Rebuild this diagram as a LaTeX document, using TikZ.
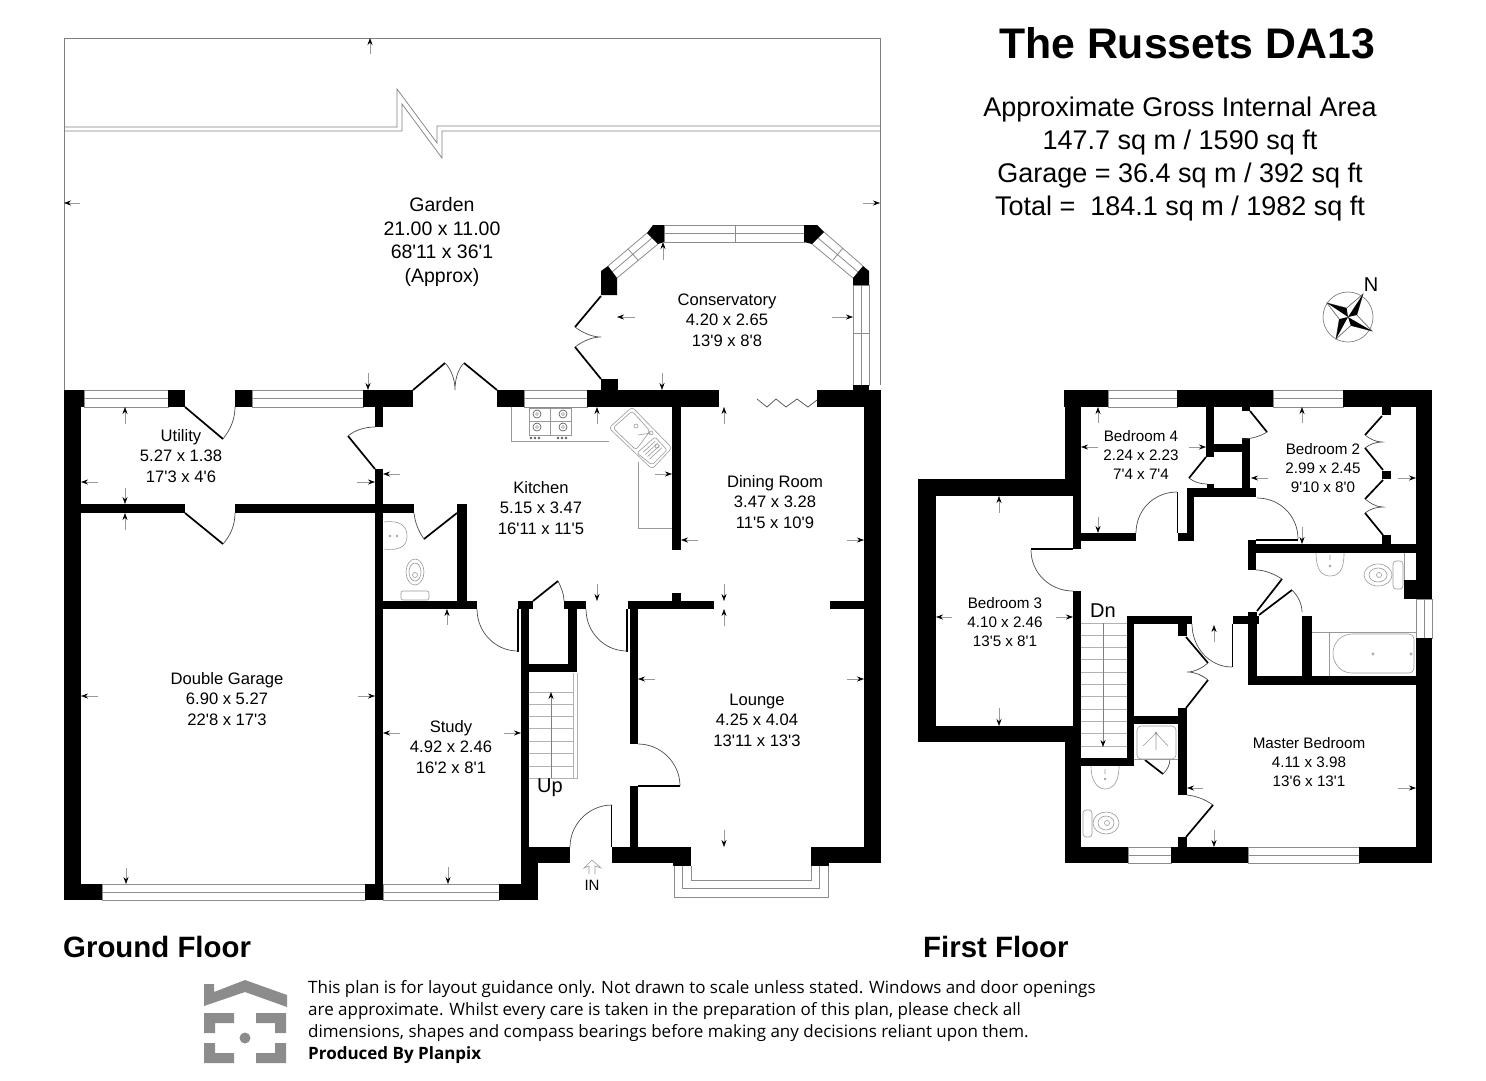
\documentclass[tikz,border=0pt]{standalone}
\usepackage{fontspec}
\setmainfont{Liberation Sans}
\newfontfamily\plainfont{Liberation Sans}
\newfontfamily\notefont{Open Sans}
\usetikzlibrary{arrows.meta, calc}
\definecolor{logogray}{HTML}{8C8C8C}
\tikzset{
    wall/.style={fill=black},
    glazing/.style={draw=black!45, line width=0.8pt},
    outline/.style={draw=black!50, line width=0.7pt},
    fixture/.style={draw=black!40, line width=0.6pt},
    doorleaf/.style={draw=black, line width=1.7pt},
    doorarc/.style={draw=black!70, line width=0.7pt},
    dimarrow/.style={draw=black!40, line width=0.6pt, -{Stealth[length=7pt,width=5pt,black]}},
    roomlabel/.style={align=center, inner sep=0pt, font=\plainfont\fontsize{16.6}{20.6}\selectfont},
    smalllabel/.style={align=center, inner sep=0pt, font=\plainfont\fontsize{15.2}{18.8}\selectfont},
    floorlabel/.style={anchor=west, inner sep=0pt, font=\fontsize{29.4}{32}\selectfont\bfseries},
}
\begin{document}
\begin{tikzpicture}[x=1pt,y=-1pt]
\useasboundingbox (0,0) rectangle (1486,1080);

% Garden boundary with break line
\draw[outline] (64,390) -- (64,38) -- (880,38) -- (880,385);
\draw[outline] (64,127) -- (397,127) -- (397,89) -- (437,143) -- (437,126) -- (880,126);
\draw[outline] (64,131) -- (402,131) -- (402,104) -- (442,158) -- (442,131) -- (880,131);

% Windows, horizontal
\foreach \xa/\ya/\xb/\yb in {84/390/168/407, 252/390/363/407, 524/390/587/407, 102/884/365/900, 383/884/499/900, 664/225/804/242,
    1108/390/1177/407, 1273/390/1343/407, 1128/847/1171/863, 1248/847/1359/863} {
  \draw[glazing] (\xa,\ya) rectangle (\xb,\yb);
  \draw[glazing] ($(\xa,\ya)!.5!(\xa,\yb)$) -- ($(\xb,\ya)!.5!(\xb,\yb)$);
}
% Windows, vertical
\foreach \xa/\ya/\xb/\yb in {853/285/869/385, 1416/599/1432/638} {
  \draw[glazing] (\xa,\ya) rectangle (\xb,\yb);
  \draw[glazing] ($(\xa,\ya)!.5!(\xb,\ya)$) -- ($(\xa,\yb)!.5!(\xb,\yb)$);
}
% Conservatory glazing
\draw[glazing] (647,233) -- (608,266) (658,244) -- (617,278) (652,238) -- (612,272) (628,249) -- (638,260);
\draw[glazing] (824,232) -- (863,266) (812,244) -- (853,278) (818,238) -- (858,272) (843,248) -- (833,260);
\draw[glazing] (735,225) -- (735,242) (853,333) -- (869,333);
% Bay window
\draw[glazing] (691,866) -- (691,880) -- (811,880) -- (811,866);
\draw[glazing] (682,866) -- (682,888) -- (819,888) -- (819,866);
\draw[glazing] (674,866) -- (674,897) -- (828,897) -- (828,866);

% Ground floor walls
\foreach \xa/\ya/\xb/\yb in {64/390/84/407, 64/390/81/900, 168/390/185/407, 235/390/252/407, 363/390/413/407, 497/390/524/407,
    587/390/719/407, 601/379/618/390, 817/390/881/407, 853/385/869/390, 864/390/881/863, 375/407/383/427, 375/469/383/900,
    81/504/185/513, 235/504/414/513, 457/504/467/601, 383/601/477/609, 518/601/533/609, 521/609/529/863, 529/847/570/863,
    521/863/538/900, 499/884/538/900, 64/884/102/900, 365/884/383/900, 564/601/586/609, 568/609/577/672, 529/664/577/672,
    628/601/714/609, 672/593/681/601, 630/609/638/744, 630/786/638/847, 612/847/691/863, 673/863/691/866, 811/847/881/863,
    811/863/829/866, 830/601/864/609, 672/407/681/550} {
  \fill[wall] (\xa,\ya) rectangle (\xb,\yb);
}
% Conservatory corners
\fill[wall] (653,225) -- (664,225) -- (664,242) -- (658,244) -- (647,233) -- cycle;
\fill[wall] (804,225) -- (817,225) -- (824,232) -- (812,244) -- (804,242) -- cycle;
\fill[wall] (608,266) -- (617,278) -- (617,295) -- (601,295) -- (601,271) -- cycle;
\fill[wall] (863,266) -- (869,271) -- (869,285) -- (853,285) -- (853,278) -- cycle;

% First floor walls
\foreach \xa/\ya/\xb/\yb in {1064/390/1108/407, 1177/390/1273/407, 1343/390/1432/407, 1416/390/1432/599, 1404/580/1416/599,
    1416/638/1432/863, 1065/390/1081/479, 918/479/1081/496, 918/479/936/742, 918/726/1081/742, 1073/496/1081/549,
    1073/591/1081/726, 1065/726/1081/863, 1065/847/1128/863, 1171/847/1248/863, 1359/847/1432/863, 1081/533/1136/541,
    1178/533/1194/541, 1187/488/1194/533, 1187/488/1256/497, 1207/484/1214/488, 1206/407/1214/457, 1214/444/1242/452,
    1242/438/1250/497, 1242/407/1250/411, 1382/407/1391/415, 1382/471/1391/479, 1382/535/1391/544, 1248/544/1416/553,
    1248/540/1256/570, 1233/616/1259/624, 1248/612/1257/684, 1302/616/1312/684, 1248/676/1416/685, 1127/616/1192/624,
    1178/624/1187/636, 1127/616/1134/766, 1081/758/1134/766, 1134/716/1187/724, 1178/708/1187/795, 1178/837/1187/847} {
  \fill[wall] (\xa,\ya) rectangle (\xb,\yb);
}

% Door leaves
\foreach \xa/\ya/\xb/\yb in {185/407/223/439, 348/436/375/469, 185/513/223/544, 457/513/424/539, 518/609/518/652, 533/601/558/581,
    627/609/627/652, 638/786/680/786, 611.5/805/611.5/847, 601/296/575/327, 575/347/601/379, 413/390/445/363, 464/363/497/390,
    1073/549/1031/549, 1177.5/492/1177.5/533,
    1189/478/1206/457, 1250/411/1267/432, 1256/540/1298/540, 1382/416/1365/435, 1365/448/1383/470, 1383/480/1365/499, 1365/513/1383/535,
    1282/579/1257/611, 1292/590/1259/615, 1232.5/624/1232.5/667, 1186/637/1208/663, 1208/680/1186/708, 1213/805/1186/837, 1145/760/1163/774} {
  \draw[doorleaf] (\xa,\ya) -- (\xb,\yb);
}
% Door swings
\draw[doorarc] (223,439) .. controls (230,430) and (235,420) .. (235,407);
\draw[doorarc] (375,427) .. controls (365,427) and (355,430) .. (348,436);
\draw[doorarc] (223,544) .. controls (230,536) and (235,526) .. (235,513);
\draw[doorarc] (414,513) .. controls (415,523) and (419,532) .. (424,539);
\draw[doorarc] (445,363) .. controls (451,369) and (455,379) .. (455,390) .. controls (455,379) and (458,369) .. (464,363);
\draw[doorarc] (477,609) .. controls (477,632) and (495,651) .. (518,651);
\draw[doorarc] (558,581) .. controls (561,587) and (564,594) .. (564,601);
\draw[doorarc] (586,609) .. controls (586,632) and (604,651) .. (627,651);
\draw[doorarc] (638,744) .. controls (661,744) and (680,763) .. (680,786);
\draw[doorarc] (570,847) .. controls (570,824) and (589,805) .. (612,805);
\draw[doorarc] (575,327) .. controls (583,333) and (592,337) .. (601,337) .. controls (592,337) and (583,341) .. (575,347);
\draw[doorarc] (1031,550) .. controls (1031,573) and (1050,591) .. (1073,591);
\draw[doorarc] (1136,533) .. controls (1136,510) and (1154,492) .. (1177,492);
\draw[doorarc] (1207,484) .. controls (1200,484) and (1194,482) .. (1189,478);
\draw[doorarc] (1267,432) .. controls (1259,437) and (1250,439) .. (1242,439);
\draw[doorarc] (1257,498) .. controls (1280,498) and (1298,516) .. (1298,539);
\draw[doorarc] (1365,435) .. controls (1370,439) and (1376,442) .. (1382,442) .. controls (1376,442) and (1370,444) .. (1365,448);
\draw[doorarc] (1365,499) .. controls (1370,503) and (1376,507) .. (1383,507) .. controls (1376,507) and (1370,509) .. (1365,513);
\draw[doorarc] (1256,570) .. controls (1265,570) and (1274,574) .. (1282,579);
\draw[doorarc] (1292,590) .. controls (1298,596) and (1302,604) .. (1302,612);
\draw[doorarc] (1232,667) .. controls (1209,667) and (1192,647) .. (1192,624);
\draw[doorarc] (1208,663) .. controls (1202,668) and (1195,672) .. (1187,672) .. controls (1195,672) and (1202,675) .. (1208,680);
\draw[doorarc] (1187,795) .. controls (1197,796) and (1206,800) .. (1213,805);
\draw[doorarc] (1163,774) .. controls (1167,770) and (1170,765) .. (1170,759);
% Folding door
\draw[doorarc] (817,400) -- (808,407) -- (797,399) -- (786,407) -- (776,399) -- (767,407) -- (757,399);

% Stairs
\foreach \y in {692,704,716,728,741,753,766} { \draw[fixture,draw=black!30] (529,\y) -- (573,\y); }
\draw[fixture,draw=black!30] (529,778) -- (577,778) -- (577,673) (573,673) -- (573,778);
\draw[dimarrow,draw=black!50] (551,778) -- (551,692);
\foreach \y in {623,635,647,659,672,684,696,709,721,733,746} { \draw[fixture,draw=black!30] (1081,\y) -- (1127,\y); }
\draw[dimarrow,draw=black!50] (1103,623) -- (1103,747);

% Kitchen worktop, hob and sink
\draw[fixture] (511,407) -- (511,441) -- (609,441) (638,462) -- (638,528) -- (672,528);
\draw[fixture] (529,408) rectangle (571,435) (529,421) -- (571,421) (550,408) -- (550,435);
\foreach \xa/\ya in {537/414, 563/414, 537/427, 563/427} {
  \draw[fixture,draw=black!70] (\xa,\ya) circle (4);
  \draw[fixture] (\xa,\ya) circle (1.5);
}
\foreach \xa in {531,535,539,558,562,566} { \draw[fixture,draw=black!70] (\xa,438) circle (1); }
\draw[fixture,rounded corners=3pt] (609,428) -- (632,407) -- (672,448) -- (652,469) -- cycle;
\draw[fixture,rounded corners=3pt] (613,428) -- (632,411) -- (650,431) -- (636,450) -- cycle;
\draw[fixture,rounded corners=2pt] (637,453) -- (655,437) -- (667,450) -- (652,465) -- cycle;
\foreach \t in {.2,.4,.6,.8} { \draw[fixture] ($(641,450)!\t!(652,461)$) -- ++(12,-11); }
\draw[fixture] (636,426) circle (2) (657,446) circle (2) (638,435) -- (651,433) (651,433) circle (2);

% Cloakroom fittings
\draw[fixture] (384,522) .. controls (400,520) and (407,526) .. (407,536) .. controls (407,546) and (400,551) .. (384,549);
\draw[fixture] (390,536) circle (1) (397,536) circle (1);
\draw[fixture] (415,572) ellipse (9 and 13) (415,572) ellipse (6 and 9) (415,575) circle (2.5);
\draw[fixture,rounded corners=2pt] (401,591) rectangle (429,600);
% Bathroom fittings
\draw[fixture] (1316,553) .. controls (1316,570) and (1322,576) .. (1330,576) .. controls (1339,576) and (1344,570) .. (1344,553);
\draw[fixture] (1330,566) circle (1) (1330,555) -- (1330,560);
\draw[fixture] (1378,575) ellipse (14 and 11) (1378,575) ellipse (9 and 7) (1379,575) circle (2.5);
\draw[fixture,rounded corners=3pt] (1393,561) rectangle (1403,589);
\draw[fixture] (1404,553) -- (1404,580) (1312,632) -- (1416,632) (1329,632) -- (1329,676);
\draw[fixture] (1352,634) -- (1409,634) .. controls (1412,634) and (1414,636) .. (1414,639) -- (1414,668) .. controls (1414,671) and (1412,673) .. (1409,673)
  -- (1352,673) .. controls (1341,673) and (1333,664) .. (1333,653) .. controls (1333,643) and (1341,634) .. (1352,634);
\draw[fixture] (1373,654) circle (1.2) (1411,654) circle (1.2);
% En-suite fittings
\draw[fixture,rounded corners=4pt] (1137,726) -- (1176,726) -- (1176,759) -- (1137,759) -- cycle;
\draw[fixture] (1156,733) circle (1) (1143,746) -- (1156,733) -- (1168,746) (1156,733) -- (1156,750);
\draw[fixture] (1134,759) -- (1178,759);
\draw[fixture] (1091,766) .. controls (1091,782) and (1098,789) .. (1105,789) .. controls (1113,789) and (1119,782) .. (1119,766);
\draw[fixture] (1105,779) circle (1) (1105,769) -- (1105,774);
\draw[fixture] (1106,823) ellipse (13 and 11) (1106,823) ellipse (8 and 7) (1107,823) circle (2.5);
\draw[fixture,rounded corners=3pt] (1083,810) rectangle (1092,837);

% Dimension arrows, tail then tip
\foreach \xa/\ya/\xb/\yb in {370/54/370/38, 80/203/64/203, 863/203/880/203, 368/373/368/390,
    125/424/125/407, 98/482/81/482, 357/482/375/482, 400/474/383/474, 125/488/125/504, 125/530/125/513,
    447/625/447/609, 597/424/597/407, 662/373/662/390, 724/424/724/407, 655/474/672/474, 698/540/681/540, 847/540/864/540,
    597/584/597/601, 724/584/724/601, 724/626/724/609, 400/733/383/733, 504/733/521/733, 655/679/638/679, 847/679/864/679,
    724/830/724/847, 448/867/448/884, 358/696/375/696, 98/696/81/696, 126/868/126/884, 663/260/663/242, 635/317/617/317, 832/317/853/317,
    1098/423/1098/407, 1098/447/1081/447, 1189/447/1206/447, 1098/517/1098/533, 1302/423/1302/407, 1268/478/1251/478,
    1398/478/1416/478, 1302/527/1302/544, 999/513/999/496, 999/708/999/726, 952/617/936/617, 1056/617/1073/617,
    1214/642/1214/625, 1203/788/1187/788, 1398/788/1416/788, 1214/830/1214/847} {
  \draw[dimarrow] (\xa,\ya) -- (\xb,\yb);
}

% Entrance arrow
\draw[fixture] (589,874) -- (589,866) -- (584,868) -- (592,860) -- (601,868) -- (595,866) -- (595,874);

% Room labels
\node[roomlabel,font=\plainfont\fontsize{19.5}{23.4}\selectfont] (garden) at (442,242) {Garden\\21.00 x 11.00\\68'11 x 36'1\\(Approx)};
\node[roomlabel] (conservatory) at (727,320) {Conservatory\\4.20 x 2.65\\13'9 x 8'8};
\node[roomlabel] (utility) at (181,456) {Utility\\5.27 x 1.38\\17'3 x 4'6};
\node[roomlabel] (kitchen) at (541,508) {Kitchen\\5.15 x 3.47\\16'11 x 11'5};
\node[roomlabel] (dining) at (775,502) {Dining Room\\3.47 x 3.28\\11'5 x 10'9};
\node[roomlabel] (garage) at (227,699) {Double Garage\\6.90 x 5.27\\22'8 x 17'3};
\node[roomlabel] (study) at (451,747) {Study\\4.92 x 2.46\\16'2 x 8'1};
\node[roomlabel] (lounge) at (757,720) {Lounge\\4.25 x 4.04\\13'11 x 13'3};
\node[smalllabel] (bedfour) at (1141,455) {Bedroom 4\\2.24 x 2.23\\7'4 x 7'4};
\node[smalllabel] (bedtwo) at (1323,468) {Bedroom 2\\2.99 x 2.45\\9'10 x 8'0};
\node[smalllabel] (bedthree) at (1005,622) {Bedroom 3\\4.10 x 2.46\\13'5 x 8'1};
\node[smalllabel] (master) at (1309,762) {Master Bedroom\\4.11 x 3.98\\13'6 x 13'1};
\node[inner sep=0pt,font=\fontsize{20}{22}\selectfont] (uplabel) at (550,788) {Up};
\node[inner sep=0pt,font=\fontsize{20}{22}\selectfont] (dnlabel) at (1103,611) {Dn};
\node[inner sep=0pt,font=\fontsize{15}{17}\selectfont] (inlabel) at (592,885) {IN};

% Heading
\node[inner sep=0pt,font=\fontsize{42.8}{46}\selectfont\bfseries] (title) at (1187,43) {The Russets DA13};
\node[align=center,inner sep=0pt,font=\fontsize{27}{32.8}\selectfont] (areas) at (1180,159) {Approximate Gross Internal Area\\147.7 sq m / 1590 sq ft\\Garage = 36.4 sq m / 392 sq ft\\Total =~~184.1 sq m / 1982 sq ft};

% Compass
\draw[outline] (1348,317) circle (25);
\draw[outline,draw=black!60] (1363,294) -- (1356.8,315) -- (1372,331) -- (1350.8,325.5) -- (1336,339) -- (1339.3,319.1) -- (1327,303) -- (1346.6,308.1) -- cycle;
\fill[black] (1363,294) -- (1356.8,315) -- (1348,317) -- cycle;
\fill[black] (1372,331) -- (1350.8,325.5) -- (1348,317) -- cycle;
\fill[black] (1336,339) -- (1339.3,319.1) -- (1348,317) -- cycle;
\fill[black] (1327,303) -- (1346.6,308.1) -- (1348,317) -- cycle;
\node[inner sep=0pt,font=\fontsize{20}{22}\selectfont] (north) at (1371,285) {N};

% Floor names
\node[floorlabel] (groundname) at (63,947) {Ground Floor};
\node[floorlabel] (firstname) at (923,947) {First Floor};

% Logo
\fill[logogray] (204,984) -- (214,984) -- (214,992) -- (245,980) -- (287,995) -- (287,1007) -- (245,992) -- (204,1006) -- cycle;
\fill[logogray] (204,1013) -- (234,1013) -- (234,1023) -- (215,1023) -- (215,1033) -- (204,1033) -- cycle;
\fill[logogray] (286,1013) -- (256,1013) -- (256,1023) -- (275,1023) -- (275,1033) -- (286,1033) -- cycle;
\fill[logogray] (204,1063) -- (234,1063) -- (234,1053) -- (215,1053) -- (215,1043) -- (204,1043) -- cycle;
\fill[logogray] (286,1063) -- (256,1063) -- (256,1053) -- (275,1053) -- (275,1043) -- (286,1043) -- cycle;
\fill[logogray] (245,1038) circle (5.5);

% Disclaimer
\node[anchor=west,align=left,inner sep=0pt,font=\notefont\fontsize{17}{22}\selectfont] (note) at (308,1022) {This plan is for layout guidance only. Not drawn to scale unless stated. Windows and door openings\\are approximate. Whilst every care is taken in the preparation of this plan, please check all\\dimensions, shapes and compass bearings before making any decisions reliant upon them.\\\textbf{Produced By Planpix}};
\end{tikzpicture}
\end{document}
